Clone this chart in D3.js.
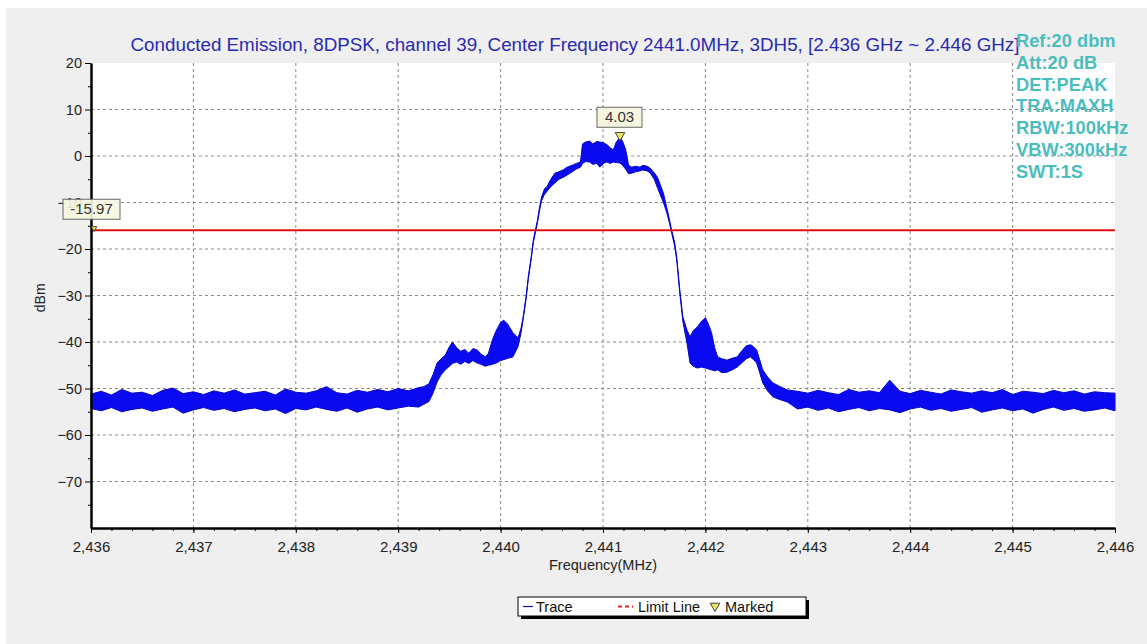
<!DOCTYPE html>
<html>
<head>
<meta charset="utf-8">
<script src="https://cdn.jsdelivr.net/npm/d3@7"></script>
<style>
  body { margin: 0; background: #fff; }
  text { font-family: Arial, "Liberation Sans", sans-serif; }
</style>
</head>
<body>
<svg id="chart" width="1147" height="644"></svg>
<script>
// Spectrum trace: frequency (MHz), top and bottom of the MAXH band (dBm)
var freqMHz = [
  2436.0, 2436.1, 2436.2, 2436.3, 2436.4, 2436.5, 2436.6, 2436.7, 2436.8, 2436.9, 2437.0,
  2437.1, 2437.2, 2437.3, 2437.4, 2437.5, 2437.6, 2437.7, 2437.8, 2437.9, 2438.0,
  2438.1, 2438.2, 2438.3, 2438.4, 2438.5, 2438.6, 2438.7, 2438.8, 2438.9, 2439.0, 2439.1, 2439.2,
  2439.25, 2439.30, 2439.34, 2439.38, 2439.42, 2439.46, 2439.50, 2439.53, 2439.57, 2439.61,
  2439.65, 2439.69, 2439.73, 2439.77, 2439.81, 2439.85, 2439.88, 2439.92, 2439.96, 2440.00,
  2440.03, 2440.07, 2440.12, 2440.17, 2440.20, 2440.22, 2440.25, 2440.27, 2440.30, 2440.32,
  2440.34, 2440.36, 2440.38, 2440.40, 2440.43, 2440.45, 2440.49, 2440.53, 2440.57, 2440.61,
  2440.65, 2440.70, 2440.74, 2440.78, 2440.80, 2440.83, 2440.87, 2440.90, 2440.94, 2440.97,
  2441.01, 2441.04, 2441.07, 2441.10, 2441.13, 2441.166, 2441.19, 2441.22, 2441.25, 2441.28,
  2441.32, 2441.36, 2441.39, 2441.43, 2441.46, 2441.50, 2441.53, 2441.56, 2441.59, 2441.62,
  2441.65, 2441.67, 2441.70, 2441.72, 2441.75, 2441.78, 2441.82, 2441.85, 2441.88, 2441.92,
  2441.96, 2442.00, 2442.03, 2442.06, 2442.09, 2442.12, 2442.16, 2442.21, 2442.26, 2442.31,
  2442.36, 2442.40, 2442.44, 2442.47, 2442.50, 2442.53, 2442.56, 2442.61, 2442.66, 2442.73, 2442.80,
  2442.9, 2443.0, 2443.1, 2443.2, 2443.3, 2443.4, 2443.5, 2443.6, 2443.7, 2443.8,
  2443.9, 2444.0, 2444.1, 2444.2, 2444.3, 2444.4, 2444.5, 2444.6, 2444.7, 2444.8,
  2444.9, 2445.0, 2445.1, 2445.2, 2445.3, 2445.4, 2445.5, 2445.6, 2445.7, 2445.8, 2445.9, 2446.0
];
var traceHigh = [
  -51.2, -50.6, -51.4, -50.2, -51.0, -50.8, -51.5, -50.4, -49.9, -51.1, -50.7,
  -51.3, -50.5, -51.0, -50.3, -51.2, -50.9, -50.6, -51.4, -50.1, -50.8,
  -51.0, -50.5, -49.6, -50.9, -51.2, -50.4, -50.8, -50.2, -50.7, -50.0, -50.5, -49.8,
  -49.6, -49.0, -47.0, -44.5, -43.6, -42.8, -41.0, -40.0, -41.2, -42.0,
  -41.6, -42.4, -41.4, -41.7, -42.6, -43.2, -42.5, -39.5, -37.4, -35.8,
  -35.3, -36.2, -38.0, -39.1, -37.0, -34.6, -30.0, -26.0, -21.5, -18.0,
  -15.9, -13.8, -11.0, -8.8, -7.0, -6.7, -5.0, -3.7, -3.4, -3.0,
  -2.4, -2.0, -1.6, -1.3, 2.6, 3.0, 3.2, 2.6, 3.1, 3.0,
  2.8, 2.4, 1.8, 1.3, 3.0, 4.03, 3.2, 1.5, -2.0, -2.4,
  -2.2, -2.4, -2.0, -2.2, -2.6, -3.6, -4.5, -6.2, -8.0, -10.8,
  -13.8, -15.9, -18.6, -21.7, -28.8, -34.6, -37.4, -38.9, -37.6, -36.8,
  -35.6, -34.8, -36.2, -38.0, -41.2, -43.2, -43.6, -43.9, -43.5, -43.2,
  -41.8, -40.8, -40.6, -41.0, -41.7, -43.8, -46.0, -47.6, -48.8, -49.6, -50.3,
  -50.6, -51.0, -50.4, -50.9, -51.3, -50.2, -50.8, -50.5, -50.9, -48.2,
  -50.6, -51.1, -50.4, -50.8, -51.2, -50.3, -50.7, -51.0, -50.5, -50.9,
  -50.2, -51.3, -50.6, -50.8, -51.1, -50.4, -50.9, -50.5, -51.2, -50.7, -50.9, -51.0
];
var traceLow = [
  -54.3, -54.8, -54.1, -55.0, -54.5, -54.2, -54.9, -54.4, -54.0, -55.3, -54.6,
  -54.1, -54.7, -54.3, -55.0, -54.5, -54.2, -54.8, -54.4, -55.4, -54.3,
  -54.6, -54.0, -54.5, -54.9, -54.2, -55.1, -54.4, -54.0, -54.6, -54.2, -53.8, -54.0,
  -53.4, -52.8, -51.0, -48.6, -47.0, -46.0, -45.2, -44.6, -44.3, -44.8,
  -44.2, -44.6, -44.0, -44.5, -44.8, -45.2, -45.0, -44.8, -44.5, -44.0,
  -43.8, -43.5, -43.2, -41.0, -38.0, -35.2, -30.6, -26.6, -22.0, -18.6,
  -16.5, -14.4, -11.8, -9.6, -8.2, -7.7, -6.6, -5.8, -5.0, -4.6,
  -4.1, -3.4, -2.8, -2.4, -1.6, -1.2, -1.3, -1.8, -1.6, -2.4,
  -1.5, -1.3, -1.6, -1.3, -1.4, -1.5, -2.0, -2.8, -3.8, -3.7,
  -3.4, -3.2, -3.0, -3.2, -3.6, -5.0, -6.7, -8.4, -10.0, -12.0,
  -14.5, -16.5, -19.4, -22.4, -29.5, -35.6, -40.2, -44.5, -45.2, -45.6,
  -45.4, -45.6, -45.8, -46.0, -46.2, -46.0, -46.6, -46.5, -46.0, -45.4,
  -44.4, -43.6, -43.2, -43.8, -44.5, -46.6, -48.8, -50.6, -51.8, -52.4, -52.9,
  -54.4, -54.0, -54.7, -54.2, -55.0, -54.5, -54.1, -54.8, -54.3, -54.6,
  -55.2, -54.4, -54.0, -54.7, -54.3, -54.9, -54.5, -54.1, -55.1, -54.6,
  -54.2, -54.8, -54.4, -55.3, -54.5, -54.0, -54.7, -54.3, -54.9, -54.6, -54.2, -54.8
];

var xTicks = [2436, 2437, 2438, 2439, 2440, 2441, 2442, 2443, 2444, 2445, 2446];
var yTicks = [20, 10, 0, -10, -20, -30, -40, -50, -60, -70];
var limitDbm = -15.97;
var markerFreq = 2441.166, markerDbm = 4.03;
var titleText = "Conducted Emission, 8DPSK, channel 39, Center Frequency 2441.0MHz, 3DH5, [2.436 GHz ~ 2.446 GHz]";
var infoLines = ["Ref:20 dbm", "Att:20 dB", "DET:PEAK", "TRA:MAXH", "RBW:100kHz", "VBW:300kHz", "SWT:1S"];
var legendItems = ["Trace", "Limit Line", "Marked"];

var svg = d3.select("#chart"),
    margin = {top: 63, right: 32, bottom: 116, left: 91},
    width = +svg.attr("width") - margin.left - margin.right,
    height = +svg.attr("height") - margin.top - margin.bottom;

// backdrop
svg.append("rect").attr("width", 1147).attr("height", 644).attr("fill", "#fff");
svg.append("rect").attr("x", 6).attr("y", 8).attr("width", 1141).attr("height", 636).attr("fill", "#efefef");

var g = svg.append("g").attr("transform", "translate(" + margin.left + "," + margin.top + ")");

var x = d3.scaleLinear().domain([2436, 2446]).range([0, width]);
var y = d3.scaleLinear().domain([-80, 20]).range([height, 0]);

g.append("rect").attr("width", width).attr("height", height).attr("fill", "#fff");

// grid
g.append("g").selectAll("line")
  .data(xTicks.slice(1, -1))
  .enter().append("line")
    .attr("x1", function(d) { return x(d); })
    .attr("x2", function(d) { return x(d); })
    .attr("y1", 0).attr("y2", height)
    .attr("stroke", "#8a8a8a").attr("stroke-dasharray", "3,3");

g.append("g").selectAll("line")
  .data(yTicks.slice(1))
  .enter().append("line")
    .attr("x1", 0).attr("x2", width)
    .attr("y1", function(d) { return y(d); })
    .attr("y2", function(d) { return y(d); })
    .attr("stroke", "#8a8a8a").attr("stroke-dasharray", "3,3");

// trace band
var rows = freqMHz.map(function(f, i) { return {f: f, hi: traceHigh[i], lo: traceLow[i]}; });

g.append("path")
  .datum(rows)
  .attr("fill", "#0a0af0")
  .attr("stroke", "#0606c8")
  .attr("stroke-width", 1)
  .attr("d", d3.area()
    .x(function(d) { return x(d.f); })
    .y0(function(d) { return y(d.lo); })
    .y1(function(d) { return y(d.hi); }));

// limit line
g.append("line")
  .attr("x1", 0).attr("x2", width)
  .attr("y1", y(limitDbm)).attr("y2", y(limitDbm))
  .attr("stroke", "#e01010").attr("stroke-width", 2);

// axes
var xAxis = g.append("g")
  .attr("transform", "translate(0," + height + ")")
  .call(d3.axisBottom(x).tickValues(xTicks).tickFormat(d3.format(",")).tickSize(5).tickSizeOuter(0).tickPadding(8));
g.append("g")
  .attr("transform", "translate(0," + height + ")")
  .call(d3.axisBottom(x).tickValues(d3.range(2436, 2446.01, 0.2)).tickFormat("").tickSize(3).tickSizeOuter(0))
  .select(".domain").remove();

var yAxis = g.append("g")
  .call(d3.axisLeft(y).tickValues(yTicks).tickSize(6).tickSizeOuter(0).tickPadding(3));
g.append("g")
  .call(d3.axisLeft(y).tickValues(d3.range(-75, 20, 10)).tickFormat("").tickSize(3).tickSizeOuter(0))
  .select(".domain").remove();

[xAxis, yAxis].forEach(function(a) {
  a.select(".domain").attr("stroke", "#000").attr("stroke-width", 2.5);
  a.selectAll("text").attr("font-size", 15).attr("fill", "#222")
    .attr("font-family", "Arial, 'Liberation Sans', sans-serif");
});
yAxis.selectAll("text").attr("font-size", 14.5);

// axis titles
g.append("text")
  .attr("x", x(2441)).attr("y", height + 42)
  .attr("text-anchor", "middle").attr("font-size", 14.5).attr("fill", "#222")
  .text("Frequency(MHz)");
g.append("text")
  .attr("transform", "translate(-46," + y(-30.5) + ") rotate(-90)")
  .attr("text-anchor", "middle").attr("font-size", 14).attr("fill", "#222")
  .text("dBm");

// limit label (covers part of the -10 tick label, as in the source)
var ly = y(limitDbm);
g.append("path")
  .attr("d", d3.symbol().type(d3.symbolTriangle).size(14))
  .attr("transform", "translate(3," + (ly - 2) + ") rotate(180)")
  .attr("fill", "#e8d850").attr("stroke", "#333").attr("stroke-width", 0.8);
g.append("rect")
  .attr("x", -28).attr("y", ly - 31).attr("width", 57).attr("height", 20)
  .attr("fill", "#f6f6e0").attr("fill-opacity", 0.9).attr("stroke", "#666");
g.append("text")
  .attr("x", 0.5).attr("y", ly - 16).attr("text-anchor", "middle")
  .attr("font-size", 15).attr("fill", "#333").text(limitDbm.toFixed(2));

// peak marker
var mx = x(markerFreq), my = y(markerDbm);
g.append("path")
  .attr("d", d3.symbol().type(d3.symbolTriangle).size(40))
  .attr("transform", "translate(" + mx + "," + (my - 2) + ") rotate(180)")
  .attr("fill", "#efe060").attr("stroke", "#444").attr("stroke-width", 1);
g.append("rect")
  .attr("x", mx - 23).attr("y", my - 30).attr("width", 45).attr("height", 20)
  .attr("fill", "#f6f6e0").attr("stroke", "#666");
g.append("text")
  .attr("x", mx - 0.5).attr("y", my - 15).attr("text-anchor", "middle")
  .attr("font-size", 15).attr("fill", "#333").text(markerDbm.toFixed(2));

// title
svg.append("text")
  .attr("x", 575).attr("y", 51)
  .attr("text-anchor", "middle").attr("font-size", 18.8).attr("fill", "#2a2ab0")
  .text(titleText);

// analyzer settings
svg.append("g").selectAll("text")
  .data(infoLines)
  .enter().append("text")
    .attr("x", 1016)
    .attr("y", function(d, i) { return 47 + i * 21.8; })
    .attr("font-size", 18.3).attr("font-weight", "bold").attr("fill", "#4cbdbd")
    .text(function(d) { return d; });

// legend
var lg = svg.append("g").attr("transform", "translate(518,597)");
lg.append("rect").attr("x", 3).attr("y", 3).attr("width", 288).attr("height", 19).attr("fill", "#000");
lg.append("rect").attr("width", 288).attr("height", 19).attr("fill", "#fff").attr("stroke", "#000");
lg.append("line").attr("x1", 5).attr("x2", 15).attr("y1", 9.5).attr("y2", 9.5).attr("stroke", "#1010c0").attr("stroke-width", 1.2);
lg.append("line").attr("x1", 100).attr("x2", 115).attr("y1", 9.5).attr("y2", 9.5)
  .attr("stroke", "#e02020").attr("stroke-width", 2).attr("stroke-dasharray", "4,3");
lg.append("path")
  .attr("d", d3.symbol().type(d3.symbolTriangle).size(40))
  .attr("transform", "translate(197,9) rotate(180)")
  .attr("fill", "#efe060").attr("stroke", "#444").attr("stroke-width", 1);
lg.selectAll("text.item")
  .data(legendItems)
  .enter().append("text")
    .attr("class", "item")
    .attr("x", function(d, i) { return [18, 120, 207][i]; })
    .attr("y", 15)
    .attr("font-size", 14.5).attr("fill", "#111")
    .text(function(d) { return d; });
</script>
</body>
</html>
